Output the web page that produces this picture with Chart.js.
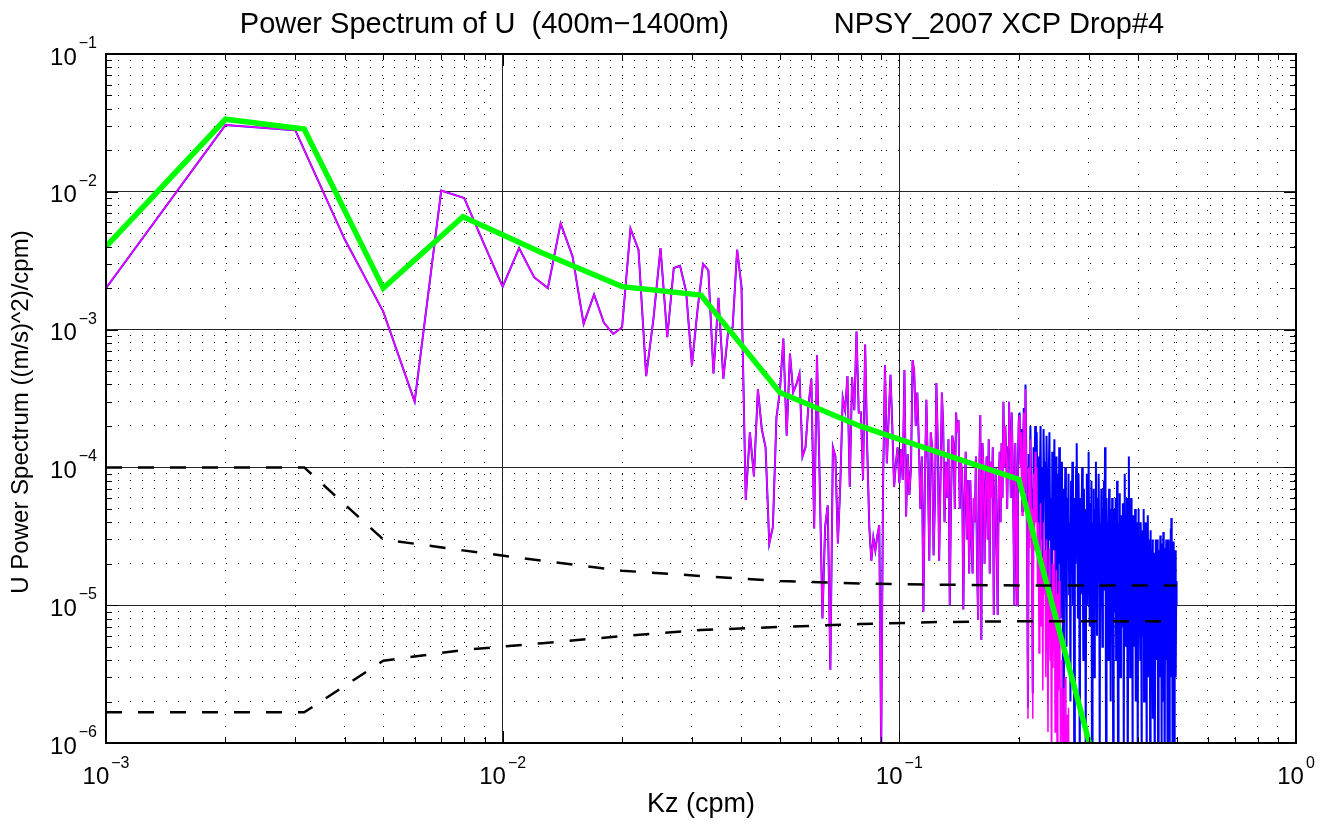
<!DOCTYPE html>
<html>
<head>
<meta charset="utf-8">
<script src="https://cdn.jsdelivr.net/npm/chart.js@4.4.1/dist/chart.umd.min.js"></script>
<style>
html,body{margin:0;padding:0;background:#fff;}
canvas{display:block;}
</style>
</head>
<body>
<canvas id="c" width="1329" height="828"></canvas>
<script>
// ---------------- data ----------------
const dk = 0.001; // wavenumber spacing (cpm), spectrum estimates at n*dk

// raw spectrum (blue), n = 1..500
const rawSpectrum = [
  2.0e-3, 3.05e-2, 2.8e-2, 4.5e-3, 1.35e-3, 3.0e-4, 1.02e-2, 9.0e-3, 4.1e-3, 2.05e-3,
  3.9e-3, 2.4e-3, 2.0e-3, 5.9e-3, 3.4e-3, 1.1e-3, 1.8e-3, 1.12e-3, 9.3e-4, 1.04e-3,
  5.4e-3, 3.8e-3, 4.6e-4, 1.2e-3, 3.9e-3, 8.8e-4, 2.8e-3, 2.9e-3, 1.9e-3, 5.5e-4,
  1.4e-3, 3.0e-3, 2.7e-3, 4.8e-4, 1.7e-3, 4.4e-4, 9.5e-4, 1.04e-3, 3.8e-3, 2.05e-3,
  5.8e-5, 1.8e-4, 8.6e-5, 3.7e-4, 1.9e-4, 1.4e-4, 2.8e-5, 3.7e-5, 2.3e-4, 3.6e-4,
  8.6e-4, 1.7e-4, 6.7e-4, 3.5e-4, 4.0e-4, 4.8e-4, 1.2e-4, 1.4e-4, 2.8e-4, 4.4e-4,
  3.6e-5, 6.5e-4, 7.7e-5, 8.0e-6, 3.7e-5, 5.3e-5, 3.4e-6, 1.4e-4, 1.2e-4, 2.8e-5,
  7.7e-5, 3.2e-4, 2.6e-4, 4.6e-4, 7.2e-5, 4.5e-4, 2.6e-4, 9.7e-4, 2.5e-4, 2.5e-4,
  8.1e-5, 7.8e-4, 1.36e-4, 3.7e-5, 2.1e-5, 3.1e-5, 2.5e-5, 3.2e-5, 3.8e-5, 9.0e-7,
  7.7e-5, 5.5e-4, 1.07e-4, 2.3e-4, 4.7e-4, 2.0e-4, 7.2e-5, 1.07e-4, 1.4e-4, 7.7e-5,
  1.36e-4, 8.1e-5, 5.1e-4, 4.4e-5, 1.25e-4, 6.3e-5, 1.0e-4, 6.0e-4, 5.0e-4, 2.0e-4,
  3.5e-4, 1.5e-4, 5.0e-5, 1.2e-4, 9.0e-6, 8.0e-5, 3.1e-4, 1.0e-4, 2.1e-5, 1.8e-4,
  1.4e-4, 2.3e-5, 6.0e-5, 4.1e-4, 1.5e-4, 2.1e-5, 8.0e-5, 3.5e-4, 2.0e-4, 4.0e-5,
  1.1e-4, 6.0e-5, 1.6e-4, 1.0e-5, 6.0e-5, 1.7e-4, 1.5e-4, 5.0e-5, 2.5e-4, 1.8e-4,
  2.2e-4, 5.0e-5, 1.1e-4, 9.0e-5, 9.3e-6, 6.0e-5, 1.3e-4, 3.0e-5, 8.1e-5, 1.7e-5,
  8.1e-5, 3.0e-5, 1.7e-5, 6.0e-5, 4.0e-5, 1.2e-4, 2.0e-5, 7.8e-6, 9.0e-5, 2.4e-4,
  5.6e-6, 1.5e-4, 1.0e-4, 2.0e-5, 7.0e-5, 1.2e-4, 3.0e-5, 1.6e-4, 1.7e-5, 1.1e-4,
  6.0e-5, 1.4e-4, 8.5e-6, 5.0e-5, 1.0e-4, 2.5e-5, 8.5e-6, 7.0e-5, 1.3e-4, 4.0e-5,
  1.5e-4, 6.0e-5, 3.0e-4, 1.0e-4, 2.0e-4, 1.2e-4, 5.0e-5, 1.4e-4, 3.0e-4, 1.5e-4,
  6.0e-5, 2.5e-4, 1.2e-4, 3.7e-5, 1.0e-5, 1.5e-4, 6.0e-5, 1.0e-5, 1.05e-4, 2.2e-4,
  2.5e-4, 1.05e-4, 1.9e-4, 4.8e-5, 1.3e-4, 2.7e-4, 6.5e-5, 4.0e-4, 1.15e-4, 2.2e-5,
  1.8e-6, 1.25e-4, 3.3e-5, 2.0e-4, 7.0e-5, 2.3e-5, 2.3e-6, 1.4e-4, 4.0e-5, 2.0e-4,
  7.0e-5, 1.8e-4, 4.0e-5, 1.2e-4, 1.5e-5, 7.0e-5, 2.0e-4, 3.0e-5, 1.0e-4, 1.2e-5,
  1.9e-4, 6.0e-5, 1.1e-4, 2.0e-5, 1.7e-4, 5.0e-5, 9.0e-6, 8.0e-5, 1.8e-4, 3.0e-5,
  6.0e-5, 4.0e-6, 1.3e-4, 2.5e-5, 7.0e-5, 1.6e-4, 1.0e-5, 4.0e-5, 1.2e-4, 3.5e-6,
  9.0e-5, 2.0e-5, 1.4e-4, 6.0e-5, 8.0e-6, 5.0e-5, 1.1e-4, 2.0e-5, 6.0e-7, 7.0e-5,
  3.0e-5, 1.0e-4, 1.5e-5, 5.0e-6, 6.0e-5, 2.5e-5, 9.0e-5, 1.2e-5, 4.0e-5, 2.0e-6,
  8.0e-5, 3.0e-5, 1.1e-4, 1.0e-5, 5.0e-5, 7.0e-7, 6.0e-5, 2.0e-5, 1.0e-4, 1.5e-4,
  4.0e-5, 8.0e-6, 9.0e-5, 3.0e-5, 5.0e-7, 6.0e-5, 1.2e-5, 4.5e-5, 1.0e-4, 2.5e-5,
  4.0e-6, 7.0e-5, 1.5e-5, 5.0e-5, 8.0e-7, 3.5e-5, 9.0e-5, 1.0e-5, 6.0e-5, 1.3e-4,
  3.0e-5, 7.0e-6, 5.5e-5, 2.0e-5, 8.0e-5, 4.0e-7, 4.0e-5, 1.2e-5, 7.0e-5, 3.0e-6,
  5.0e-5, 1.8e-5, 1.1e-4, 2.5e-5, 6.0e-6, 6.0e-5, 1.5e-5, 9.0e-5, 3.0e-5, 8.0e-7,
  4.0e-5, 1.0e-5, 7.0e-5, 2.0e-5, 5.0e-6, 5.0e-5, 1.3e-5, 8.0e-5, 2.5e-5, 1.4e-4,
  3.5e-5, 6.0e-7, 6.0e-5, 1.5e-5, 4.0e-5, 4.0e-6, 3.0e-5, 7.0e-5, 1.0e-5, 5.0e-5,
  2.0e-6, 4.0e-5, 1.2e-5, 6.0e-5, 2.5e-5, 7.0e-7, 3.5e-5, 9.0e-6, 5.0e-5, 2.0e-5,
  6.0e-5, 4.0e-6, 3.0e-5, 8.0e-5, 1.5e-5, 5.0e-7, 4.0e-5, 1.0e-5, 6.5e-5, 2.0e-5,
  3.0e-6, 4.5e-5, 1.2e-5, 3.0e-5, 7.0e-6, 5.5e-5, 1.8e-5, 8.0e-7, 3.5e-5, 9.0e-5,
  2.0e-5, 5.0e-6, 4.0e-5, 1.0e-5, 6.0e-5, 2.5e-5, 4.0e-7, 3.0e-5, 1.2e-4, 1.5e-5,
  4.0e-5, 3.0e-6, 2.5e-5, 6.0e-5, 9.0e-6, 3.5e-5, 6.0e-7, 2.0e-5, 4.5e-5, 1.2e-5,
  3.0e-5, 5.0e-6, 5.0e-5, 1.5e-5, 2.0e-6, 3.5e-5, 1.0e-5, 4.0e-5, 7.0e-7, 2.5e-5,
  5.0e-5, 8.0e-6, 3.0e-5, 1.2e-5, 4.0e-6, 4.0e-5, 1.8e-5, 5.0e-7, 2.5e-5, 6.0e-6,
  3.5e-5, 1.0e-5, 5.0e-5, 2.0e-6, 2.0e-5, 3.0e-5, 7.0e-6, 4.0e-5, 1.3e-5, 6.0e-7,
  2.8e-5, 9.0e-6, 4.5e-5, 1.5e-5, 3.0e-6, 3.0e-5, 1.0e-5, 2.0e-5, 5.0e-7, 3.5e-5,
  1.2e-5, 4.0e-6, 2.5e-5, 8.0e-6, 3.0e-5, 1.5e-6, 2.4e-5, 1.0e-5, 5.0e-6, 2.0e-5,
  6.0e-7, 1.5e-5, 3.0e-5, 7.0e-6, 2.2e-5, 4.0e-6, 1.2e-5, 3.0e-5, 5.0e-7, 1.8e-5,
  9.0e-6, 2.5e-5, 3.0e-6, 1.4e-5, 3.2e-5, 6.0e-6, 2.0e-5, 8.0e-7, 1.5e-5, 2.8e-5,
  5.0e-6, 1.2e-5, 3.4e-5, 2.0e-6, 2.2e-5, 1.0e-5, 4.0e-7, 2.6e-5, 8.0e-6, 1.6e-5,
  3.0e-5, 4.0e-6, 1.8e-5, 6.0e-7, 2.4e-5, 1.1e-5, 3.0e-6, 3.0e-5, 1.4e-5, 5.0e-7,
  2.0e-5, 7.0e-6, 3.6e-5, 1.0e-5, 4.3e-5, 3.0e-6, 2.2e-5, 6.0e-7, 1.6e-5, 2.8e-5,
  5.0e-6, 2.9e-5, 1.2e-5, 4.0e-7, 2.0e-5, 8.0e-6, 2.5e-5, 3.0e-6, 1.5e-5, 1.0e-5
];

// corrected spectrum (magenta) beyond k = 0.2 cpm, n = 201..272
const correctedTail = [
  2.4e-4, 1.0e-4, 1.8e-4, 4.5e-5, 1.2e-4, 2.5e-4, 6.0e-5, 3.7e-4, 1.0e-4, 1.8e-5,
  1.5e-6, 1.0e-4, 2.6e-5, 1.6e-4, 5.0e-5, 1.6e-5, 1.5e-6, 9.0e-5, 2.5e-5, 1.3e-4,
  4.0e-5, 1.0e-4, 1.4e-5, 4.0e-5, 4.5e-6, 2.0e-5, 5.5e-5, 7.0e-6, 2.2e-5, 2.4e-6,
  4.0e-5, 1.2e-5, 2.5e-5, 3.0e-6, 3.0e-5, 8.0e-6, 1.2e-6, 1.2e-5, 2.6e-5, 4.0e-6,
  9.0e-6, 5.0e-7, 2.0e-5, 3.5e-6, 1.0e-5, 2.5e-5, 1.2e-6, 6.0e-6, 1.8e-5, 4.0e-7,
  1.2e-5, 2.4e-6, 1.5e-5, 5.0e-6, 6.0e-7, 2.5e-6, 4.0e-6, 8.0e-7, 1.0e-8, 2.5e-6,
  9.0e-7, 3.0e-6, 4.0e-7, 1.2e-7, 1.6e-6, 5.0e-7, 1.8e-6, 2.0e-7, 6.0e-7, 3.0e-8,
  8.0e-7, 1.0e-7
];

// smoothed (band-averaged) spectrum (green)
const smoothK        = [0.001, 0.002, 0.00316, 0.005, 0.00794, 0.0126, 0.02, 0.0316, 0.05, 0.0794, 0.126, 0.2, 0.316];
const smoothSpectrum = [4.0e-3, 3.36e-2, 2.85e-2, 2.0e-3, 6.6e-3, 3.6e-3, 2.05e-3, 1.78e-3, 3.5e-4, 2.0e-4, 1.28e-4, 8.2e-5, 6.0e-7];

// confidence bounds (black dashed)
const ciK     = [0.001, 0.002, 0.00316, 0.005, 0.00794, 0.0126, 0.02, 0.0316, 0.05, 0.0794, 0.126, 0.2, 0.316, 0.5];
const ciUpper = [1.0e-4, 1.0e-4, 1.0e-4, 3.0e-5, 2.5e-5, 2.1e-5, 1.78e-5, 1.63e-5, 1.5e-5, 1.44e-5, 1.41e-5, 1.39e-5, 1.39e-5, 1.39e-5];
const ciLower = [1.67e-6, 1.67e-6, 1.67e-6, 3.95e-6, 4.73e-6, 5.3e-6, 5.97e-6, 6.6e-6, 6.95e-6, 7.3e-6, 7.55e-6, 7.64e-6, 7.64e-6, 7.64e-6];

// axes
const xDecades = [-3, -2, -1, 0];
const yDecades = [-6, -5, -4, -3, -2, -1];
const titleText = 'Power Spectrum of U  (400m\u22121400m)             NPSY_2007 XCP Drop#4';
const xLabel = 'Kz (cpm)';
const yLabel = 'U Power Spectrum ((m/s)^2)/cpm)';

// ---------------- helpers ----------------
const FONT = '"Liberation Sans", Arial, Helvetica, sans-serif';
function logTicks(decades) {
  const out = [];
  for (let i = 0; i < decades.length - 1; i++) {
    for (let m = 1; m <= 9; m++) out.push(m * Math.pow(10, decades[i]));
  }
  out.push(Math.pow(10, decades[decades.length - 1]));
  return out;
}
const xTickVals = logTicks(xDecades);
const yTickVals = logTicks(yDecades);
function isDecade(v) {
  const l = Math.log10(v);
  return Math.abs(l - Math.round(l)) < 1e-6;
}
const setTicks = vals => scale => { scale.ticks = vals.map(v => ({ value: v })); };
const majorColor = c => (c.tick && isDecade(c.tick.value)) ? '#262626' : 'rgba(0,0,0,0)';
const minorColor = c => (c.tick && !isDecade(c.tick.value)) ? '#000000' : 'rgba(0,0,0,0)';

const rawK = rawSpectrum.map((_, i) => (i + 1) * dk);
const correctedSpectrum = rawSpectrum.slice(0, 200).concat(correctedTail);
const toXY = (ks, vs) => vs.map((v, i) => ({ x: ks[i], y: v }));

function axis(min, max, vals, colorFn, dash, pos) {
  return {
    type: 'logarithmic', position: pos, min: min, max: max,
    afterBuildTicks: setTicks(vals),
    ticks: { display: false },
    border: { display: false, dash: dash },
    grid: { drawTicks: false, lineWidth: 1, color: colorFn }
  };
}

function supText(e) { return e < 0 ? '\u2212' + (-e) : String(e); }
function drawPow(ctx, e, anchor, isX, a) {
  ctx.font = '24px ' + FONT;
  const w10 = ctx.measureText('10').width;
  ctx.font = '16px ' + FONT;
  const s = supText(e);
  const ws = ctx.measureText(s).width;
  const gap = 2;
  const total = w10 + gap + ws;
  let x0, b0, b1;
  if (isX) { x0 = anchor - total / 2; b0 = a.bottom + 41; b1 = a.bottom + 25; }
  else { x0 = a.left - 9 - total; b0 = anchor + 10.5; b1 = anchor - 6; }
  ctx.textAlign = 'left';
  ctx.font = '24px ' + FONT;
  ctx.fillText('10', x0, b0);
  ctx.font = '16px ' + FONT;
  ctx.fillText(s, x0 + w10 + gap, b1);
}

const decorations = {
  id: 'decorations',
  afterDraw(chart) {
    const { ctx, chartArea: a } = chart;
    const xs = chart.scales.x, ys = chart.scales.y;
    ctx.save();
    // inward ticks on all four sides
    ctx.strokeStyle = '#000';
    ctx.lineWidth = 1;
    ctx.beginPath();
    xTickVals.forEach(v => {
      const p = Math.round(xs.getPixelForValue(v)) + 0.5;
      const L = isDecade(v) ? 12 : 6;
      ctx.moveTo(p, a.bottom); ctx.lineTo(p, a.bottom - L);
      ctx.moveTo(p, a.top); ctx.lineTo(p, a.top + L);
    });
    yTickVals.forEach(v => {
      const p = Math.round(ys.getPixelForValue(v)) + 0.5;
      const L = isDecade(v) ? 12 : 6;
      ctx.moveTo(a.left, p); ctx.lineTo(a.left + L, p);
      ctx.moveTo(a.right, p); ctx.lineTo(a.right - L, p);
    });
    ctx.stroke();
    // frame
    ctx.lineWidth = 2;
    ctx.strokeRect(a.left, a.top, a.right - a.left, a.bottom - a.top);
    // tick labels
    ctx.fillStyle = '#000';
    ctx.textBaseline = 'alphabetic';
    xDecades.forEach(e => drawPow(ctx, e, xs.getPixelForValue(Math.pow(10, e)), true, a));
    yDecades.forEach(e => drawPow(ctx, e, ys.getPixelForValue(Math.pow(10, e)), false, a));
    // title and axis labels
    const cx = (a.left + a.right) / 2;
    ctx.textAlign = 'center';
    ctx.font = '29px ' + FONT;
    ctx.fillText(titleText, cx + 1, 33);
    ctx.font = '27px ' + FONT;
    ctx.fillText(xLabel, cx, 812);
    ctx.font = '24px ' + FONT;
    ctx.save();
    ctx.translate(28, 412);
    ctx.rotate(-Math.PI / 2);
    ctx.fillText(yLabel, 0, 0);
    ctx.restore();
    ctx.restore();
  }
};

new Chart(document.getElementById('c'), {
  type: 'line',
  data: {
    datasets: [
      { label: 'upper', data: toXY(ciK, ciUpper), borderColor: '#000', borderWidth: 2.5, borderDash: [16, 16],
        pointRadius: 0, fill: false, tension: 0, clip: 0, order: 0 },
      { label: 'lower', data: toXY(ciK, ciLower), borderColor: '#000', borderWidth: 2.5, borderDash: [16, 16],
        pointRadius: 0, fill: false, tension: 0, clip: 0, order: 1 },
      { label: 'smoothed', data: toXY(smoothK, smoothSpectrum), borderColor: '#00ff00', borderWidth: 5.5,
        borderJoinStyle: 'miter', pointRadius: 0, fill: false, tension: 0, clip: 0, order: 2 },
      { label: 'corrected', data: toXY(rawK, correctedSpectrum), borderColor: '#ff00ff', borderWidth: 1.5,
        pointRadius: 0, fill: false, tension: 0, clip: 0, order: 3 },
      { label: 'raw', data: toXY(rawK, rawSpectrum), borderColor: '#0000ff', borderWidth: 2.0,
        pointRadius: 0, fill: false, tension: 0, clip: 0, order: 4 }
    ]
  },
  options: {
    responsive: false,
    devicePixelRatio: 1,
    animation: false,
    events: [],
    layout: { padding: { left: 106, top: 54, right: 33, bottom: 85 } },
    plugins: { legend: { display: false }, tooltip: { enabled: false }, title: { display: false } },
    scales: {
      x: axis(1e-3, 1, xTickVals, majorColor, [], 'bottom'),
      xMinor: axis(1e-3, 1, xTickVals, minorColor, [1, 11], 'bottom'),
      y: axis(1e-6, 1e-1, yTickVals, majorColor, [], 'left'),
      yMinor: axis(1e-6, 1e-1, yTickVals, minorColor, [1, 11], 'left')
    }
  },
  plugins: [decorations]
});
</script>
</body>
</html>
